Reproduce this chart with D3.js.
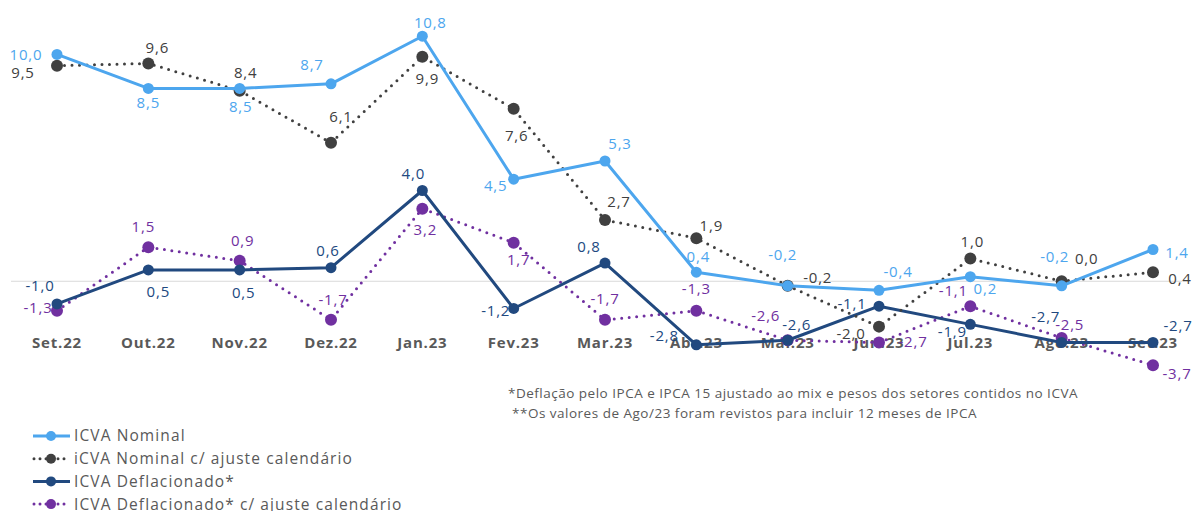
<!DOCTYPE html>
<html>
<head>
<meta charset="utf-8">
<script src="https://cdn.jsdelivr.net/npm/d3@7"></script>
<style>
  body { margin: 0; background: #fff; }
  svg { display: block; font-family: "Open Sans", sans-serif; }
</style>
</head>
<body>
<svg width="1194" height="511"></svg>
<script>
var months = ["Set.22", "Out.22", "Nov.22", "Dez.22", "Jan.23", "Fev.23", "Mar.23",
  "Abr.23", "Mai.23", "Jun.23", "Jul.23", "Ago.23", "Set.23"];

var nominal = [10.0, 8.5, 8.5, 8.7, 10.8, 4.5, 5.3, 0.4, -0.2, -0.4, 0.2, -0.2, 1.4];
var nominalAjuste = [9.5, 9.6, 8.4, 6.1, 9.9, 7.6, 2.7, 1.9, -0.2, -2.0, 1.0, 0.0, 0.4];
var deflacionado = [-1.0, 0.5, 0.5, 0.6, 4.0, -1.2, 0.8, -2.8, -2.6, -1.1, -1.9, -2.7, -2.7];
var deflacionadoAjuste = [-1.3, 1.5, 0.9, -1.7, 3.2, 1.7, -1.7, -1.3, -2.6, -2.7, -1.1, -2.5, -3.7];

// label offsets (dx, dy) from each point, hand placed like the original
var offNominal = [[-31,0],[0,14],[1,18],[-19,-19],[8,-13],[-18,7],[15,-17],[2,-15],[-5,-31],[19,-19],[15,12],[-7,-29],[24,3]];
var offNominalAjuste = [[-34,7],[9,-16],[6,-18],[10,-26],[5,22],[3,27],[14,-18],[15,-12],[30,-8],[-28,7],[2,-17],[25,-23],[27,7]];
var offDefl = [[-17,-18],[10,22],[4,23],[-3,-17],[-9,-17],[-18,2],[-16,-16],[-32,-9],[9,-15],[-27,-2],[-18,7],[-16,-26],[25,-17]];
var offDeflAjuste = [[-19,-3],[-5,-20],[3,-20],[2,-20],[3,21],[5,17],[0,-21],[0,-22],[-22,-24],[34,-1],[-17,-15],[8,-13],[24,9]];

var notes = ["*Deflação pelo IPCA e IPCA 15 ajustado ao mix e pesos dos setores contidos no ICVA",
  " **Os valores de Ago/23 foram revistos para incluir 12 meses de IPCA"];

var series = [
  { name: "ICVA Nominal", values: nominal, off: offNominal, color: "#4da6ee", dotted: false },
  { name: "iCVA Nominal c/ ajuste calendário", values: nominalAjuste, off: offNominalAjuste, color: "#404040", dotted: true },
  { name: "ICVA Deflacionado*", values: deflacionado, off: offDefl, color: "#21497f", dotted: false },
  { name: "ICVA Deflacionado* c/ ajuste calendário", values: deflacionadoAjuste, off: offDeflAjuste, color: "#7030a0", dotted: true }
];

var svg = d3.select("svg");

var x = d3.scalePoint()
  .domain(months)
  .range([57, 1153]);

var y = d3.scaleLinear()
  .domain([-4, 12])
  .range([372, 9]);

var fmt = function (v) { return d3.format(".1f")(v).replace(".", ",").replace("\u2212", "-"); };

// zero line
svg.append("line")
  .attr("x1", 11).attr("x2", 1182)
  .attr("y1", y(0)).attr("y2", y(0))
  .attr("stroke", "#d9d9d9")
  .attr("stroke-width", 1);

// month labels
svg.append("g")
  .selectAll("text")
  .data(months)
  .enter().append("text")
  .attr("x", function (d) { return x(d); })
  .attr("y", 348)
  .attr("text-anchor", "middle")
  .attr("font-size", 15)
  .attr("font-weight", "bold")
  .attr("letter-spacing", 0.8)
  .attr("fill", "#595959")
  .text(function (d) { return d; });

var line = d3.line()
  .x(function (d, i) { return x(months[i]); })
  .y(function (d) { return y(d); });

// draw order like the original: deflated first, nominal on top
var order = [3, 2, 1, 0];
order.forEach(function (k) {
  var s = series[k];
  var g = svg.append("g");
  g.append("path")
    .datum(s.values)
    .attr("d", line)
    .attr("fill", "none")
    .attr("stroke", s.color)
    .attr("stroke-width", 3)
    .attr("stroke-linecap", s.dotted ? "round" : "butt")
    .attr("stroke-linejoin", "round")
    .attr("stroke-dasharray", s.dotted ? "0,7.5" : null);

  g.selectAll("circle")
    .data(s.values)
    .enter().append("circle")
    .attr("cx", function (d, i) { return x(months[i]); })
    .attr("cy", function (d) { return y(d); })
    .attr("r", s.dotted ? 6 : 5.5)
    .attr("fill", s.color);
});

// value labels
series.forEach(function (s) {
  svg.append("g")
    .selectAll("text")
    .data(s.values)
    .enter().append("text")
    .attr("x", function (d, i) { return x(months[i]) + s.off[i][0]; })
    .attr("y", function (d, i) { return y(d) + s.off[i][1]; })
    .attr("dy", "0.35em")
    .attr("text-anchor", "middle")
    .attr("font-size", 15)
    .attr("letter-spacing", 0.8)
    .attr("fill", s.color)
    .text(function (d) { return fmt(d); });
});

// footnotes
svg.append("g")
  .selectAll("text")
  .data(notes)
  .enter().append("text")
  .attr("x", 508)
  .attr("y", function (d, i) { return 398 + i * 20; })
  .attr("font-size", 13.5)
  .attr("letter-spacing", 0.5)
  .attr("fill", "#595959")
  .attr("xml:space", "preserve")
  .style("white-space", "pre")
  .text(function (d) { return d; });

// legend
var legend = svg.append("g")
  .selectAll("g")
  .data(series)
  .enter().append("g")
  .attr("transform", function (d, i) { return "translate(0," + (436 + i * 22.7) + ")"; });

legend.append("line")
  .attr("x1", function (d) { return d.dotted ? 34 : 33; })
  .attr("x2", 70)
  .attr("stroke", function (d) { return d.color; })
  .attr("stroke-width", 3)
  .attr("stroke-linecap", function (d) { return d.dotted ? "round" : "butt"; })
  .attr("stroke-dasharray", function (d) { return d.dotted ? "0,6" : null; });

legend.append("circle")
  .attr("cx", 51)
  .attr("r", 5)
  .attr("fill", function (d) { return d.color; });

legend.append("text")
  .attr("x", 74)
  .attr("dy", "0.35em")
  .attr("font-size", 15.5)
  .attr("letter-spacing", 1.1)
  .attr("fill", "#595959")
  .text(function (d) { return d.name; });
</script>
</body>
</html>
